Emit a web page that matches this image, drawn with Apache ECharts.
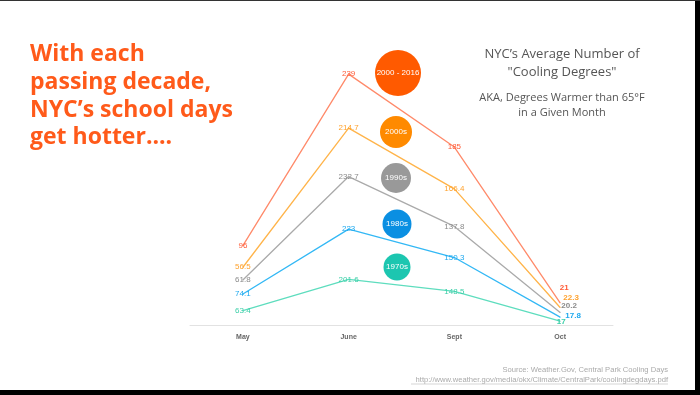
<!DOCTYPE html>
<html>
<head>
<meta charset="utf-8">
<script src="https://cdn.jsdelivr.net/npm/echarts@6/dist/echarts.min.js"></script>
<style>html,body{margin:0;padding:0;background:#fff}#c{width:700px;height:395px}</style>
</head>
<body>
<div id="c"></div>
<script>
// ---- data ----
var months = ['May', 'June', 'Sept', 'Oct'];
var decadeNames = ['1970s', '1980s', '1990s', '2000s', '2000 - 2016'];
var s1970s = [63.4, 201.6, 148.5, 17];
var s1980s = [74.1, 223, 150.3, 17.8];
var s1990s = [61.8, 232.7, 137.8, 20.2];
var s2000s = [56.5, 214.7, 166.4, 22.3];
var s2000to2016 = [96, 239, 185, 21];
var seriesValues = [s1970s, s1980s, s1990s, s2000s, s2000to2016];

// ---- styles ----
var lineColors = ['#5EDDBE', '#33B8F5', '#AAAAAA', '#FFB44A', '#FF8A6A'];
var labelColors = ['#3CCFA8', '#1EA8EE', '#8A8A8A', '#FFA22E', '#FF5A36'];
var bubbleColors = ['#1CC6B0', '#0A8FE2', '#999999', '#FF8A00', '#FF5A00'];
var bubbles = [ // layout of decade legend bubbles
  {cx: 397, cy: 267, r: 13.5},
  {cx: 397, cy: 224, r: 14.5},
  {cx: 396, cy: 178, r: 15},
  {cx: 396, cy: 132, r: 16},
  {cx: 398, cy: 73, r: 23}
];
var lastLabelOffsets = [[1, 1], [13, -1], [9, -7], [11, -10], [4, -15]];

var chart = echarts.init(document.getElementById('c'), null, {renderer: 'canvas'});

var series = seriesValues.map(function (vals, i) {
  return {
    name: decadeNames[i],
    type: 'line',
    stack: 'total',
    symbol: 'circle',
    symbolSize: 1,
    showSymbol: true,
    itemStyle: {color: lineColors[i]},
    lineStyle: {color: lineColors[i], width: 1.3},
    label: {
      show: true,
      position: 'inside',
      color: labelColors[i],
      textBorderWidth: 0,
      textBorderColor: 'transparent',
      fontSize: 8,
      fontFamily: 'Liberation Sans, Arial, sans-serif'
    },
    z: 2 + i,
    data: vals.map(function (v, j) {
      if (j === vals.length - 1) {
        return {value: v, label: {offset: lastLabelOffsets[i], fontWeight: 'bold', color: labelColors[i],
          textBorderWidth: 0, textBorderColor: 'transparent'}};
      }
      return v;
    })
  };
});

var graphics = [];
bubbles.forEach(function (b, i) {
  graphics.push({type: 'circle', shape: {cx: b.cx, cy: b.cy, r: b.r}, style: {fill: bubbleColors[i]}, z: 10});
  graphics.push({type: 'text', x: b.cx, y: b.cy, z: 11, style: {text: decadeNames[i], fill: '#fff',
    font: '8px "Liberation Sans", Arial, sans-serif', textAlign: 'center', textVerticalAlign: 'middle'}});
});
graphics.push({type: 'text', x: 30, y: 41, style: {
  text: 'With each\npassing decade,\nNYC\u2019s school days\nget hotter....',
  fill: '#FF5A1A', font: 'bold 23px "Open Sans", Lato, sans-serif', lineHeight: 27.7}});
graphics.push({type: 'text', x: 562, y: 54, style: {text: 'NYC\u2019s Average Number of', fill: '#555',
  font: '13px "Open Sans", sans-serif', textAlign: 'center', textVerticalAlign: 'middle'}});
graphics.push({type: 'text', x: 562, y: 72, style: {text: '"Cooling Degrees"', fill: '#555',
  font: '13px "Open Sans", sans-serif', textAlign: 'center', textVerticalAlign: 'middle'}});
graphics.push({type: 'text', x: 562, y: 98, style: {text: 'AKA, Degrees Warmer than 65\u00B0F', fill: '#555',
  font: '11px "Open Sans", sans-serif', textAlign: 'center', textVerticalAlign: 'middle'}});
graphics.push({type: 'text', x: 562, y: 113, style: {text: 'in a Given Month', fill: '#555',
  font: '11px "Open Sans", sans-serif', textAlign: 'center', textVerticalAlign: 'middle'}});
graphics.push({type: 'text', x: 668, y: 370, style: {text: 'Source: Weather.Gov, Central Park Cooling Days', fill: '#AAAAAA',
  font: '7.6px "Liberation Sans", Arial, sans-serif', textAlign: 'right', textVerticalAlign: 'middle'}});
graphics.push({type: 'text', x: 668, y: 380, style: {text: 'http://www.weather.gov/media/okx/Climate/CentralPark/coolingdegdays.pdf', fill: '#AAAAAA',
  font: '7.6px "Liberation Sans", Arial, sans-serif', textAlign: 'right', textVerticalAlign: 'middle'}});
graphics.push({type: 'line', shape: {x1: 411, y1: 384, x2: 668, y2: 384}, style: {stroke: '#BBBBBB', lineWidth: 0.6}});
// slide frame
graphics.push({type: 'rect', shape: {x: 695, y: 0, width: 5, height: 395}, style: {fill: '#000'}, z: 20});
graphics.push({type: 'rect', shape: {x: 0, y: 390, width: 700, height: 5}, style: {fill: '#000'}, z: 20});
graphics.push({type: 'rect', shape: {x: 0, y: 0, width: 700, height: 1}, style: {fill: '#333'}, z: 20});

chart.setOption({
  animation: false,
  backgroundColor: '#fff',
  grid: {left: 190, right: 87, top: 54, bottom: 70},
  xAxis: {
    type: 'category',
    data: months,
    boundaryGap: true,
    axisLine: {lineStyle: {color: '#E2E2E2', width: 1}},
    axisTick: {show: false},
    axisLabel: {color: '#666', fontSize: 7, margin: 9, fontWeight: 'bold', fontFamily: 'Liberation Sans, Arial, sans-serif'}
  },
  yAxis: {
    type: 'value',
    min: 0,
    max: 1200,
    show: false,
    splitLine: {show: false}
  },
  series: series,
  graphic: graphics
});
</script>
</body>
</html>
